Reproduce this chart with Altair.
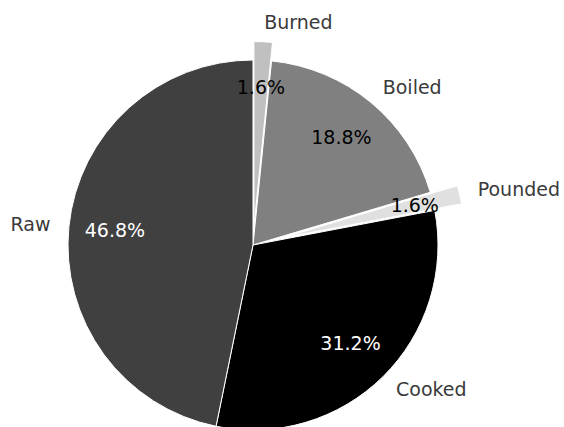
import altair as alt
import pandas as pd

# Slices listed clockwise from 12 o'clock
categories = ["Burned", "Boiled", "Pounded", "Cooked", "Raw"]
values = [1.6, 18.8, 1.6, 31.2, 46.8]
explode = [0.1, 0.0, 0.15, 0.0, 0.0]
colors = ["#c0c0c0", "#808080", "#e0e0e0", "#000000", "#404040"]
pct_colors = ["#000000", "#000000", "#000000", "#ffffff", "#ffffff"]

W, H = 564, 427
CX, CY, R = 253, 245, 185
FS = 19

df = pd.DataFrame({
    "cat": categories,
    "value": values,
    "explode": explode,
    "pctcolor": pct_colors,
    "ord": list(range(len(categories))),
})

base = alt.Chart(df).transform_window(
    cum="sum(value)", sort=[alt.SortField("ord")], frame=[None, 0]
).transform_joinaggregate(
    total="sum(value)"
).transform_calculate(
    a0="(datum.cum - datum.value) / datum.total * 2 * PI",
    a1="datum.cum / datum.total * 2 * PI",
).transform_calculate(
    mid="(datum.a0 + datum.a1) / 2",
).transform_calculate(
    cx=f"{CX} + datum.explode * {R} * sin(datum.mid)",
    cy=f"{CY} - datum.explode * {R} * cos(datum.mid)",
).transform_calculate(
    px=f"datum.cx + {0.75 * R} * sin(datum.mid)",
    py=f"datum.cy - {0.75 * R} * cos(datum.mid)",
    lx=f"datum.cx + {1.1 * R} * sin(datum.mid)",
    ly=f"datum.cy - {1.1 * R} * cos(datum.mid)",
    pct="format(datum.value, '.1f') + '%'",
    side="sin(datum.mid) >= 0 ? 'right' : 'left'",
)

arcs = base.mark_arc(radius=R, stroke="white", strokeWidth=1).encode(
    x=alt.X("cx:Q", scale=None),
    y=alt.Y("cy:Q", scale=None),
    theta=alt.Theta("a0:Q", scale=None),
    theta2="a1:Q",
    color=alt.Color("cat:N", scale=alt.Scale(domain=categories, range=colors), legend=None),
)

pcts = base.mark_text(font="DejaVu Sans", fontSize=FS, baseline="middle", align="center").encode(
    x=alt.X("px:Q", scale=None),
    y=alt.Y("py:Q", scale=None),
    text="pct:N",
    color=alt.Color("pctcolor:N", scale=None),
)

labels_right = base.transform_filter("datum.side == 'right'").mark_text(
    font="DejaVu Sans", fontSize=FS, baseline="middle", align="left", color="#3a3a3a"
).encode(
    x=alt.X("lx:Q", scale=None),
    y=alt.Y("ly:Q", scale=None),
    text="cat:N",
)

labels_left = base.transform_filter("datum.side == 'left'").mark_text(
    font="DejaVu Sans", fontSize=FS, baseline="middle", align="right", color="#3a3a3a"
).encode(
    x=alt.X("lx:Q", scale=None),
    y=alt.Y("ly:Q", scale=None),
    text="cat:N",
)

chart = alt.layer(arcs, pcts, labels_right, labels_left).properties(
    width=W, height=H, padding=0, autosize=alt.AutoSizeParams(type="none"), background="white"
).configure_view(stroke=None)

chart.save("out.html", embed_options={"renderer": "svg", "actions": False})
